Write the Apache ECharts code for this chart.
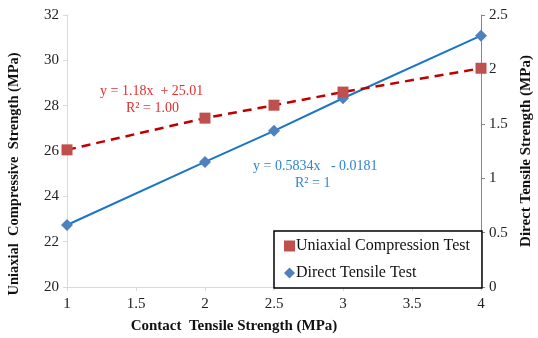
<!DOCTYPE html>
<html><head><meta charset="utf-8">
<script src="https://cdn.jsdelivr.net/npm/echarts@6/dist/echarts.min.js"></script>
<style>html,body{margin:0;padding:0;background:#fff}#c{width:538px;height:338px}</style>
</head><body><div id="c"></div>
<script>
const xValues = [1, 2, 2.5, 3, 4];
const ucsValues = [26.05, 27.45, 28.02, 28.6, 29.65];
const dtsValues = [0.57, 1.15, 1.435, 1.735, 2.31];
const seriesNames = ['Uniaxial Compression Test', 'Direct Tensile Test'];
const xTitle = 'Contact  Tensile Strength (MPa)';
const yLeftTitle = 'Uniaxial  Compressive  Strength (MPa)';
const yRightTitle = 'Direct Tensile Strength (MPa)';
const eqRed = ['y = 1.18x  + 25.01', 'R² = 1.00'];
const eqBlue = ['y = 0.5834x   - 0.0181', 'R² = 1'];

const F = 'Liberation Serif';
const chart = echarts.init(document.getElementById('c'));
chart.setOption({
  animation: false,
  textStyle: {fontFamily: F},
  grid: {left: 67, right: 57, top: 15, bottom: 51},
  xAxis: {
    type: 'value', min: 1, max: 4, interval: 0.5,
    axisLine: {lineStyle: {color: '#d9d9d9', width: 1}},
    axisTick: {show: true, length: 4, lineStyle: {color: '#d9d9d9'}},
    splitLine: {show: false},
    axisLabel: {color: '#222', fontFamily: F, fontSize: 15, margin: 10}
  },
  yAxis: [{
    type: 'value', min: 20, max: 32, interval: 2, position: 'left',
    axisLine: {show: true, lineStyle: {color: '#d9d9d9'}},
    axisTick: {show: true, length: 4, lineStyle: {color: '#d9d9d9'}},
    splitLine: {show: false},
    axisLabel: {color: '#222', fontFamily: F, fontSize: 15, margin: 8}
  }, {
    type: 'value', min: 0, max: 2.5, interval: 0.5, position: 'right',
    axisLine: {show: true, lineStyle: {color: '#888'}},
    axisTick: {show: true, length: 4, lineStyle: {color: '#888'}},
    splitLine: {show: false},
    axisLabel: {color: '#222', fontFamily: F, fontSize: 15, margin: 8}
  }],
  legend: {
    orient: 'vertical', left: 274, top: 231,
    padding: [7, 12, 7, 10], itemGap: 11,
    borderColor: '#000', borderWidth: 1.5, backgroundColor: '#fff',
    itemWidth: 11, itemHeight: 11,
    textStyle: {fontFamily: F, fontSize: 16, color: '#111', padding: [0, 0, 0, -4]},
    data: [{name: seriesNames[0], icon: 'rect'}, {name: seriesNames[1], icon: 'diamond'}]
  },
  series: [{
    name: seriesNames[0], type: 'line', yAxisIndex: 0,
    data: xValues.map((x, i) => [x, ucsValues[i]]),
    symbol: 'rect', symbolSize: 11,
    itemStyle: {color: '#c0504d'},
    lineStyle: {color: '#c00000', width: 2.5, type: [9, 6]},
    z: 3
  }, {
    name: seriesNames[1], type: 'line', yAxisIndex: 1,
    data: xValues.map((x, i) => [x, dtsValues[i]]),
    symbol: 'diamond', symbolSize: 12,
    itemStyle: {color: '#4f81bd'},
    lineStyle: {color: '#1a75c9', width: 2},
    z: 2
  }],
  graphic: [
    {type: 'text', left: 100, top: 84, style: {text: eqRed[0], fill: '#e03030', font: '14px ' + F}},
    {type: 'text', left: 126, top: 101, style: {text: eqRed[1], fill: '#e03030', font: '14px ' + F}},
    {type: 'text', left: 253, top: 159, style: {text: eqBlue[0], fill: '#2e86d0', font: '14px ' + F}},
    {type: 'text', left: 295, top: 176, style: {text: eqBlue[1], fill: '#2e86d0', font: '14px ' + F}},
    {type: 'text', x: 234, y: 326, style: {text: xTitle, fill: '#111', font: 'bold 15px ' + F, align: 'center', verticalAlign: 'middle'}},
    {type: 'text', x: 14, y: 174, rotation: Math.PI / 2, style: {text: yLeftTitle, fill: '#111', font: 'bold 14.5px ' + F, align: 'center', verticalAlign: 'middle'}},
    {type: 'text', x: 526, y: 151, rotation: Math.PI / 2, style: {text: yRightTitle, fill: '#111', font: 'bold 15px ' + F, align: 'center', verticalAlign: 'middle'}}
  ]
});
</script></body></html>
